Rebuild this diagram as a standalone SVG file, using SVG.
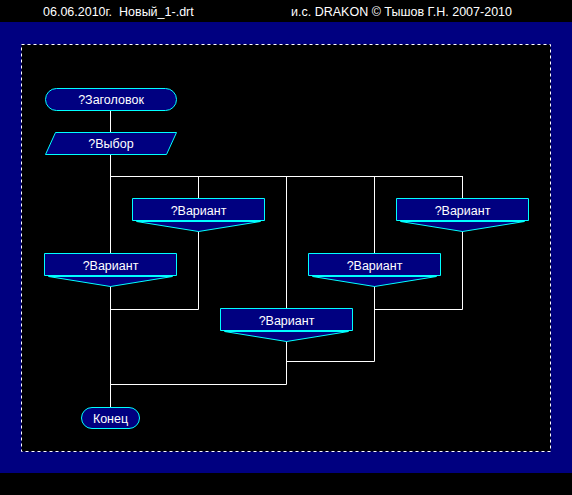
<svg xmlns="http://www.w3.org/2000/svg" width="572" height="495" viewBox="0 0 572 495">
<style>
.shape{fill:#000080;stroke:#00ffff;stroke-width:1}
.lbl{font-family:"Liberation Sans",Arial,sans-serif;font-size:12.5px;fill:#ffffff;text-anchor:middle}
.hdr{font-family:"Liberation Sans",Arial,sans-serif;font-size:12.5px;fill:#ffffff;white-space:pre}
.ln{stroke:#ffffff;stroke-width:1;fill:none}
</style>
<defs>
<g id="variant">
<path class="shape" d="M-66,0 H66 V22 H-66 Z"/>
<path class="shape" d="M-62,23 L0,33 L62,23 Z"/>
<text class="lbl" x="0" y="16">?Вариант</text>
</g>
</defs>
<rect x="0" y="0" width="572" height="495" fill="#000000"/>
<rect x="0" y="22" width="572" height="451" fill="#000080"/>
<rect x="21.5" y="44.5" width="529" height="407" fill="#000000" stroke="#ffffff" stroke-dasharray="3,3"/>
<text class="hdr" x="43" y="16" xml:space="preserve">06.06.2010г.  Новый_1-.drt</text>
<text class="hdr" x="512" y="16" text-anchor="end">и.с. DRAKON © Тышов Г.Н. 2007-2010</text>
<g id="connectors">
<path class="ln" d="M110.5,111 V132 M110.5,155 V253 M110.5,286 V407"/>
<path class="ln" d="M110.5,176.5 H462.5"/>
<path class="ln" d="M198.5,176 V198 M198.5,231 V309.5 H110"/>
<path class="ln" d="M286.5,176 V308 M286.5,341 V384.5 H110"/>
<path class="ln" d="M374.5,176 V253 M374.5,286 V361.5 H286"/>
<path class="ln" d="M462.5,176 V198 M462.5,231 V309.5 H374"/>
</g>
<g id="title">
<rect class="shape" x="45.5" y="88.5" width="131" height="22" rx="11" ry="11"/>
<text class="lbl" x="111" y="104">?Заголовок</text>
</g>
<g id="choice">
<path class="shape" d="M55.5,132.5 H176.5 L166.5,154.5 H45.5 Z"/>
<text class="lbl" x="111" y="148">?Выбор</text>
</g>
<g id="variant1"><use href="#variant" x="110.5" y="253.5"/></g>
<g id="variant2"><use href="#variant" x="198.5" y="198.5"/></g>
<g id="variant3"><use href="#variant" x="286.5" y="308.5"/></g>
<g id="variant4"><use href="#variant" x="374.5" y="253.5"/></g>
<g id="variant5"><use href="#variant" x="462.5" y="198.5"/></g>
<g id="end">
<rect class="shape" x="81.5" y="407.5" width="58" height="21" rx="10.5" ry="10.5"/>
<text class="lbl" x="110.5" y="423">Конец</text>
</g>
</svg>
